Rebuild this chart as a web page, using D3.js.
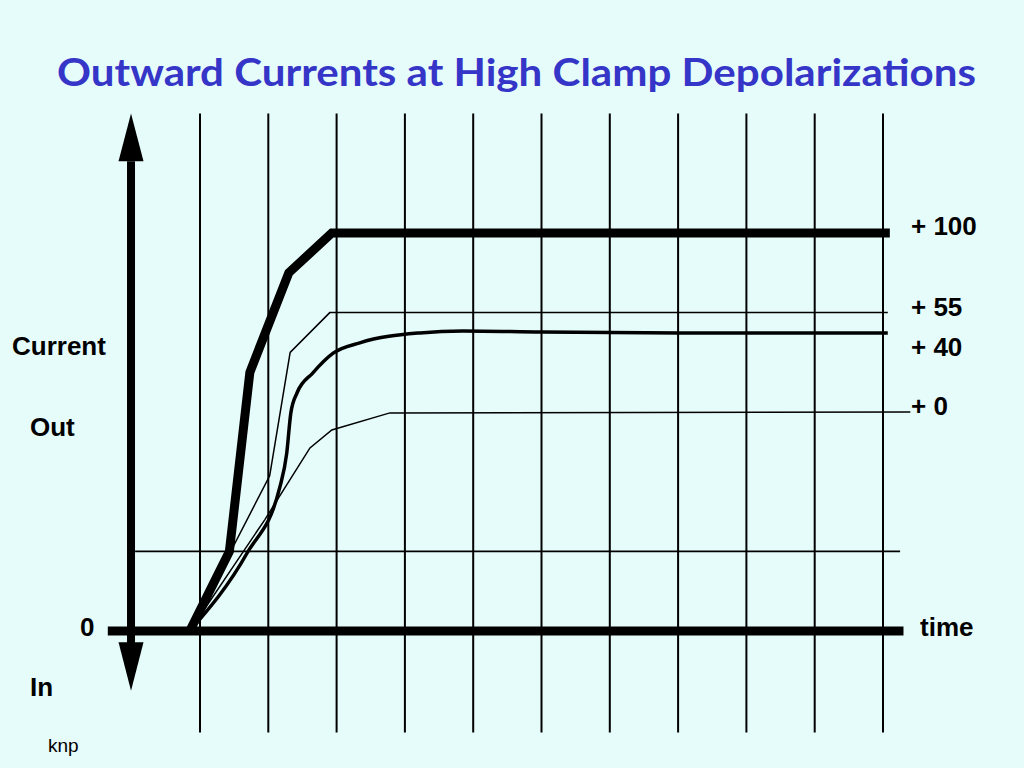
<!DOCTYPE html>
<html>
<head>
<meta charset="utf-8">
<script src="https://cdn.jsdelivr.net/npm/d3@7"></script>
<style>
  html, body { margin: 0; padding: 0; background: #e6fcfa; }
  svg { display: block; }
  text { font-family: "Liberation Sans", Arial, sans-serif; }
</style>
</head>
<body>
<div class="chart"></div>
<script>
const WIDTH = 1024, HEIGHT = 768;

// time in grid steps, current in arbitrary units (0 = zero current)
const gridTimes = [0, 1, 2, 3, 4, 5, 6, 7, 8, 9, 10];
const clampLabels = ["+ 100", "+ 55", "+ 40", "+ 0"];

const t100 = [-0.15, 0.43, 0.73, 1.3, 1.93, 10.1];
const i100 = [0, 20, 65, 90, 100, 100];

const t55 = [-0.15, 1.02, 1.32, 1.9, 10.07];
const i55 = [0, 39, 70, 80, 80];

const t40 = [-0.15, 0.69, 1.17, 1.27, 1.33, 1.42, 1.65, 1.95, 2.34, 3.22, 3.85, 5.0, 7.03, 10.07];
const i40 = [0, 19.6, 36.2, 44.7, 54.8, 59.8, 64.8, 69.8, 72.4, 74.9, 75.4, 75.1, 74.9, 74.9];

const t0 = [-0.15, 0.95, 1.61, 1.93, 2.78, 10.4];
const i0 = [0, 28, 46, 50.5, 54.8, 55];

const x = d3.scaleLinear().domain([0, 10]).range([200, 883]);
const y = d3.scaleLinear().domain([0, 100]).range([631, 233]);

const svg = d3.select(".chart").append("svg")
  .attr("width", WIDTH)
  .attr("height", HEIGHT);

svg.append("rect").attr("width", WIDTH).attr("height", HEIGHT).attr("fill", "#e6fcfa");

// title
svg.append("text")
  .attr("x", 57).attr("y", 86)
  .attr("textLength", 919)
  .attr("lengthAdjust", "spacingAndGlyphs")
  .style("font-family", "Lato, 'Open Sans', sans-serif")
  .style("font-weight", "bold")
  .style("font-size", "38px")
  .attr("fill", "#3535c8")
  .text("Outward Currents at High Clamp Depolarizations");

// vertical grid
svg.selectAll(".grid").data(gridTimes).join("line")
  .attr("class", "grid")
  .attr("x1", d => x(d)).attr("x2", d => x(d))
  .attr("y1", y(130)).attr("y2", y(-25.5))
  .attr("stroke", "#000").attr("stroke-width", 2);

// reference level line
svg.append("line")
  .attr("x1", x(-0.95)).attr("x2", x(10.25))
  .attr("y1", y(20)).attr("y2", y(20))
  .attr("stroke", "#000").attr("stroke-width", 1.6);

// zero-current axis
svg.append("line")
  .attr("x1", x(-1.35)).attr("x2", x(10.3))
  .attr("y1", y(0)).attr("y2", y(0))
  .attr("stroke", "#000").attr("stroke-width", 9);

// current axis with arrows both ways
const ax = x(-1.01);
svg.append("line")
  .attr("x1", ax).attr("x2", ax)
  .attr("y1", y(118)).attr("y2", y(-3))
  .attr("stroke", "#000").attr("stroke-width", 8);
svg.append("path")
  .attr("d", `M${ax},${y(130)} L${ax + 12.5},${y(118)} L${ax - 12.5},${y(118)} Z`)
  .attr("fill", "#000");
svg.append("path")
  .attr("d", `M${ax},${y(-15)} L${ax + 12.5},${y(-2.8)} L${ax - 12.5},${y(-2.8)} Z`)
  .attr("fill", "#000");

// current traces
const line = d3.line().x(d => x(d[0])).y(d => y(d[1]));
const smooth = d3.line().x(d => x(d[0])).y(d => y(d[1])).curve(d3.curveMonotoneX);

const traces = [
  { t: t0, i: i0, w: 1.5, gen: line },
  { t: t55, i: i55, w: 1.5, gen: line },
  { t: t40, i: i40, w: 3.5, gen: smooth },
  { t: t100, i: i100, w: 9, gen: line }
];
traces.forEach(s => {
  svg.append("path")
    .attr("d", s.gen(d3.zip(s.t, s.i)))
    .attr("fill", "none")
    .attr("stroke", "#000")
    .attr("stroke-width", s.w)
    .attr("stroke-linejoin", "miter");
});

// clamp labels on the right
const labelLevels = [i100[i100.length - 1], i55[i55.length - 1], i40[i40.length - 1], i0[i0.length - 1]];
const labelDy = [2, 3.5, 23, 3];
svg.selectAll(".clamp").data(clampLabels).join("text")
  .attr("class", "clamp")
  .attr("x", 911)
  .attr("y", (d, k) => y(labelLevels[k]) + labelDy[k])
  .style("font-weight", "bold").style("font-size", "26px")
  .text(d => d);

// axis texts
const bold = (tx, ty, s) => svg.append("text").attr("x", tx).attr("y", ty)
  .style("font-weight", "bold").style("font-size", "26px").text(s);
bold(12, 355, "Current");
bold(30, 436, "Out");
bold(80, 636, "0");
bold(30, 696, "In");
bold(920, 636, "time");

svg.append("text").attr("x", 48).attr("y", 752)
  .style("font-size", "19px").text("knp");
</script>
</body>
</html>
